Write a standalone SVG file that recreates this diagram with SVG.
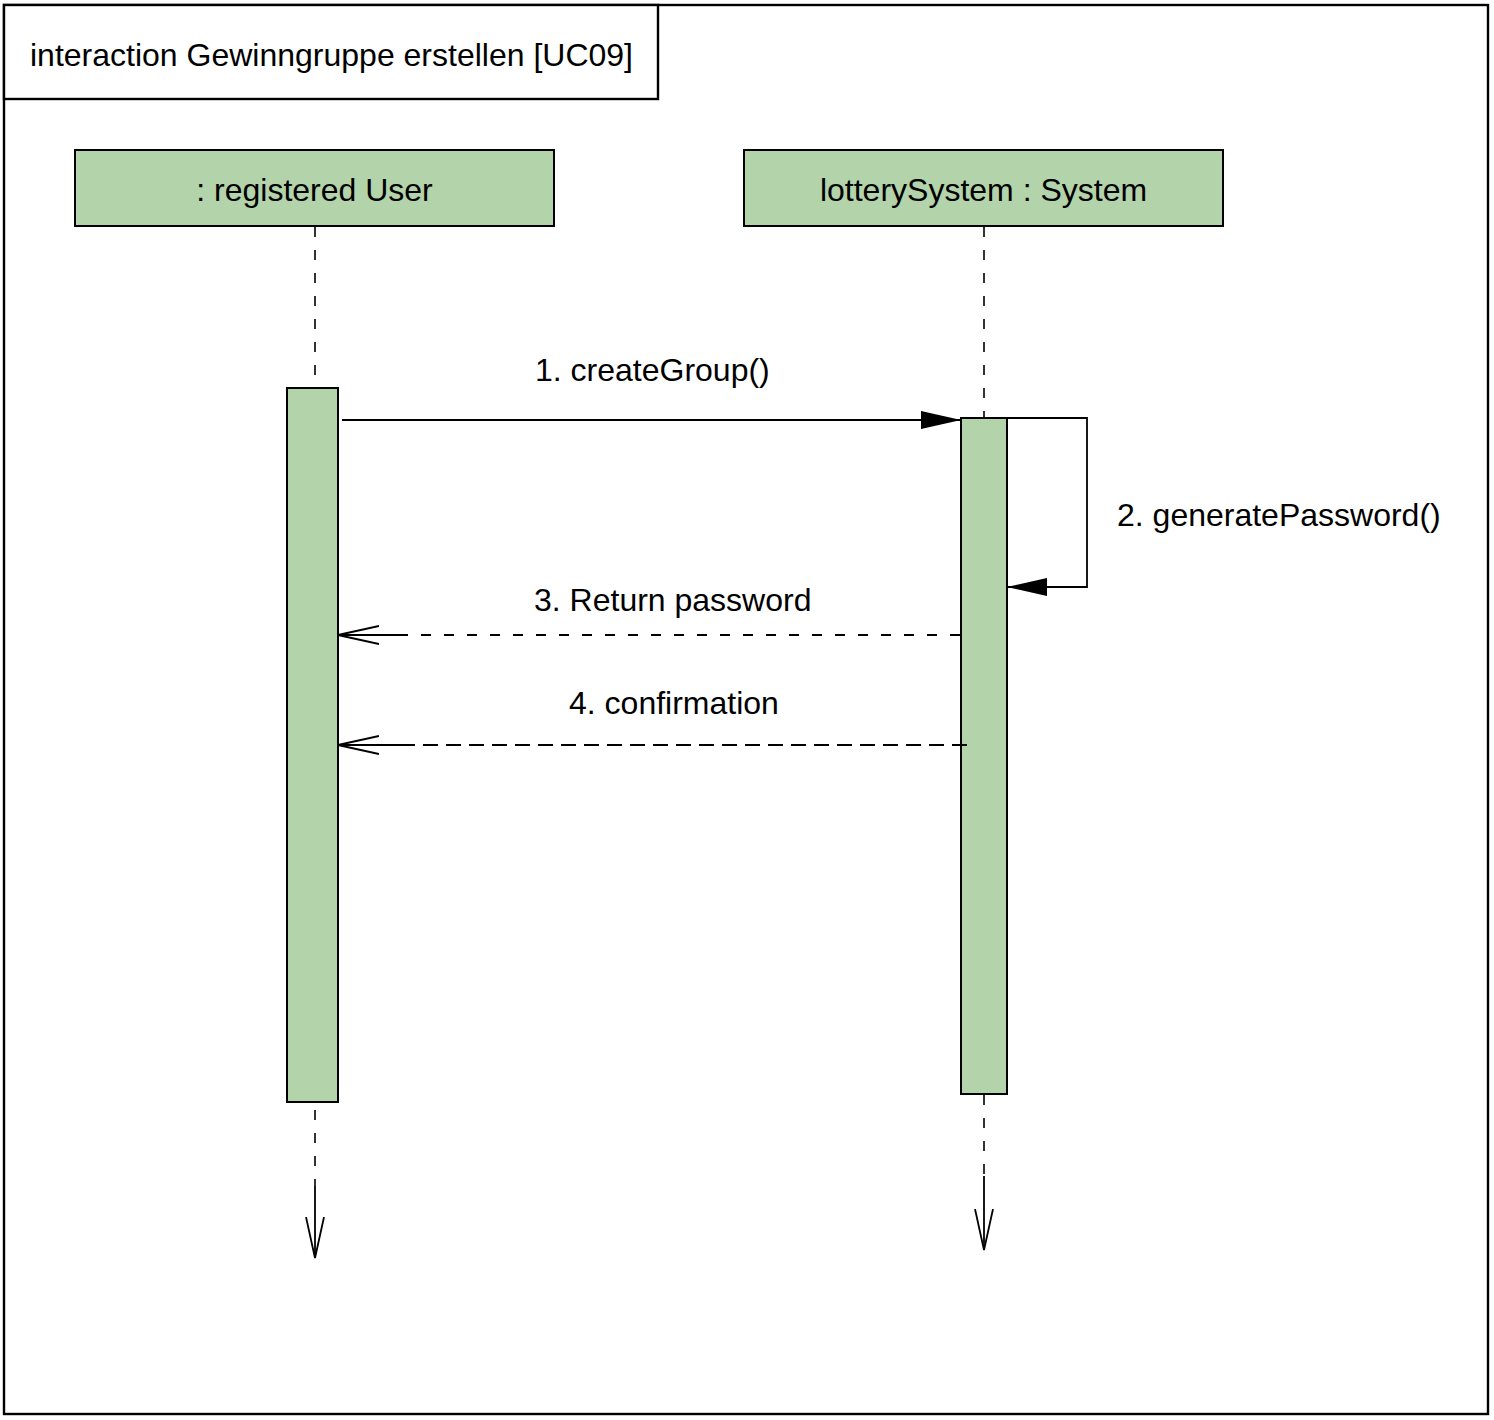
<svg xmlns="http://www.w3.org/2000/svg" width="1494" height="1420" viewBox="0 0 1494 1420">
<style>
text{font-family:"Liberation Sans",Arial,sans-serif;font-size:32px;fill:#000}
.box{fill:#b3d3aa;stroke:#000;stroke-width:2}
.frame{fill:#fff;stroke:#000;stroke-width:2.4}
.ll{stroke:#000;stroke-width:1.6;stroke-dasharray:10,13;fill:none}
.msg{stroke:#000;stroke-width:1.8;fill:none}
.ret3{stroke:#000;stroke-width:1.8;fill:none;stroke-dasharray:10,13}
.ret4{stroke:#000;stroke-width:1.8;fill:none;stroke-dasharray:15,8}
</style>
<defs>
<marker id="filled" viewBox="0 0 40 18" refX="40" refY="9" markerWidth="40" markerHeight="18" markerUnits="userSpaceOnUse" orient="auto">
<path d="M0,0 L40,9 L0,18 Z" fill="#000"/>
</marker>
<marker id="open" viewBox="0 0 42 20" refX="41" refY="10" markerWidth="42" markerHeight="20" markerUnits="userSpaceOnUse" orient="auto">
<path d="M0,1 L41,10 L0,19" fill="none" stroke="#000" stroke-width="1.8"/>
</marker>
</defs>
<rect x="0" y="0" width="1494" height="1420" fill="#fff"/>
<g id="frame">
<rect class="frame" x="4" y="5" width="1484" height="1409"/>
<rect class="frame" x="4" y="5" width="654" height="94"/>
<text x="30" y="66">interaction Gewinngruppe erstellen [UC09]</text>
</g>
<g id="user">
<rect class="box" x="75" y="150" width="479" height="76"/>
<text x="314.5" y="201" text-anchor="middle">: registered User</text>
<rect class="box" x="287" y="388" width="51" height="714"/>
</g>
<g id="system">
<rect class="box" x="744" y="150" width="479" height="76"/>
<text x="983.5" y="201" text-anchor="middle">lotterySystem : System</text>
<rect class="box" x="961" y="418" width="46" height="676"/>
</g>
<g id="connectors">
<line class="ll" x1="315" y1="227" x2="315" y2="387"/>
<line class="ll" x1="315" y1="1110" x2="315" y2="1186"/>
<line class="msg" x1="315" y1="1186" x2="315" y2="1258" marker-end="url(#open)"/>
<line class="ll" x1="984" y1="227" x2="984" y2="417"/>
<line class="ll" x1="984" y1="1095" x2="984" y2="1176"/>
<line class="msg" x1="984" y1="1176" x2="984" y2="1250" marker-end="url(#open)"/>
<line class="msg" x1="342" y1="420" x2="961" y2="420" marker-end="url(#filled)"/>
<polyline class="msg" points="1007,418 1087,418 1087,587 1007,587" marker-end="url(#filled)"/>
<line class="ret3" x1="960" y1="635" x2="407" y2="635"/>
<line class="msg" x1="408" y1="635" x2="338" y2="635" marker-end="url(#open)"/>
<line class="ret4" x1="967" y1="745" x2="400" y2="745"/>
<line class="msg" x1="401" y1="745" x2="338" y2="745" marker-end="url(#open)"/>
<text x="535" y="381">1. createGroup()</text>
<text x="1117" y="526">2. generatePassword()</text>
<text x="534" y="611">3. Return password</text>
<text x="569" y="714">4. confirmation</text>
</g>
</svg>
